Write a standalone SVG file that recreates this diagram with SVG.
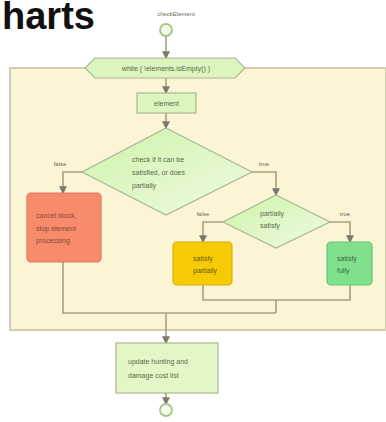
<svg xmlns="http://www.w3.org/2000/svg" width="386" height="422" viewBox="0 0 386 422">
<defs>
<style>
.t{font-family:"Liberation Sans",Arial,sans-serif;font-size:7px;fill:#5a6a48}
.tl{font-family:"Liberation Sans",Arial,sans-serif;font-size:6px;fill:#6a6a5a}
.c{fill:none;stroke:#a8a080;stroke-width:1.6}
.n{stroke:#a8b890;stroke-width:1.2}
</style>
<linearGradient id="g" x1="0" y1="0" x2="1" y2="1">
<stop offset="0" stop-color="#cdf3a8"/><stop offset="1" stop-color="#f0fbe4"/>
</linearGradient>
<marker id="a" viewBox="0 0 6 6" refX="5" refY="3" markerWidth="5" markerHeight="5" orient="auto">
<path d="M0,0 L6,3 L0,6 z" fill="#7a7a6a"/>
</marker>
</defs>
<rect width="386" height="422" fill="#ffffff"/>
<text x="2" y="29" font-family="Liberation Sans,Arial,sans-serif" font-weight="bold" font-size="38" fill="#111">harts</text>

<g id="loop">
<rect x="10" y="68" width="376" height="262" fill="#fcf5d5" stroke="#d2ccb0" stroke-width="2"/>
</g>

<g id="connectors">
<path class="c" d="M166,36 V58" marker-end="url(#a)"/>
<path class="c" d="M166,78 V93" marker-end="url(#a)"/>
<path class="c" d="M166,113 V128" marker-end="url(#a)"/>
<path class="c" d="M82,172 H63 V193" marker-end="url(#a)"/>
<path class="c" d="M252,172 H276 V195" marker-end="url(#a)"/>
<path class="c" d="M223,222 H203 V242" marker-end="url(#a)"/>
<path class="c" d="M330,222 H350 V242" marker-end="url(#a)"/>
<path class="c" d="M203,285 V300 H350 V285"/>
<path class="c" d="M276,300 V313"/>
<path class="c" d="M63,262 V313 H276"/>
<path class="c" d="M166,313 V343" marker-end="url(#a)"/>
<path class="c" d="M166,393 V404" marker-end="url(#a)"/>
<text class="tl" x="60" y="166" text-anchor="middle">false</text>
<text class="tl" x="264" y="166" text-anchor="middle">true</text>
<text class="tl" x="203" y="216" text-anchor="middle">false</text>
<text class="tl" x="345" y="216" text-anchor="middle">true</text>
</g>

<g id="start">
<text class="tl" x="176" y="16" text-anchor="middle">checkElement</text>
<circle cx="166" cy="30" r="6" fill="#f4fbe8" stroke="#a8c488" stroke-width="1.8"/>
</g>

<g id="while">
<polygon class="n" points="95,58 235,58 245,68 235,78 95,78 85,68" fill="#dcf5bf"/>
<text class="t" x="166" y="70.5" text-anchor="middle">while ( !elements.isEmpty() )</text>
</g>

<g id="element">
<rect class="n" x="137" y="93" width="59" height="20" fill="#dcf5bf"/>
<text class="t" x="166.5" y="105.5" text-anchor="middle">element</text>
</g>

<g id="check">
<polygon class="n" points="166,128 252,172 166,215 82,172" fill="url(#g)"/>
<text class="t" x="132" y="162">check if it can be</text>
<text class="t" x="132" y="175">satisfied, or does</text>
<text class="t" x="132" y="188">partially</text>
</g>

<g id="cancel">
<rect x="27" y="193" width="74" height="69" rx="4" fill="#f78b6b" stroke="#e6775a" stroke-width="1.2"/>
<text class="t" x="36" y="218" style="fill:#8a4a36">cancel block,</text>
<text class="t" x="36" y="231" style="fill:#8a4a36">stop element</text>
<text class="t" x="36" y="243" style="fill:#8a4a36">processing</text>
</g>

<g id="partial">
<polygon class="n" points="276,195 330,222 276,248 223,222" fill="url(#g)"/>
<text class="t" x="260" y="216">partially</text>
<text class="t" x="260" y="228">satisfy</text>
</g>

<g id="satisfyPartially">
<rect x="173" y="242" width="59" height="43" rx="4" fill="#f6cb05" stroke="#dcb200" stroke-width="1.2"/>
<text class="t" x="193" y="261" style="fill:#6a5a10">satisfy</text>
<text class="t" x="193" y="273" style="fill:#6a5a10">partially</text>
</g>

<g id="satisfyFully">
<rect x="327" y="242" width="45" height="43" rx="4" fill="#80e08d" stroke="#62c872" stroke-width="1.2"/>
<text class="t" x="337" y="261" style="fill:#3a6a3a">satisfy</text>
<text class="t" x="337" y="273" style="fill:#3a6a3a">fully</text>
</g>

<g id="update">
<rect class="n" x="116" y="343" width="102" height="50" fill="#e2f7c6"/>
<text class="t" x="128" y="364">update hunting and</text>
<text class="t" x="128" y="378">damage cost list</text>
</g>

<g id="end">
<circle cx="166" cy="410" r="6" fill="#f4fbe8" stroke="#a8c488" stroke-width="1.8"/>
</g>
</svg>
